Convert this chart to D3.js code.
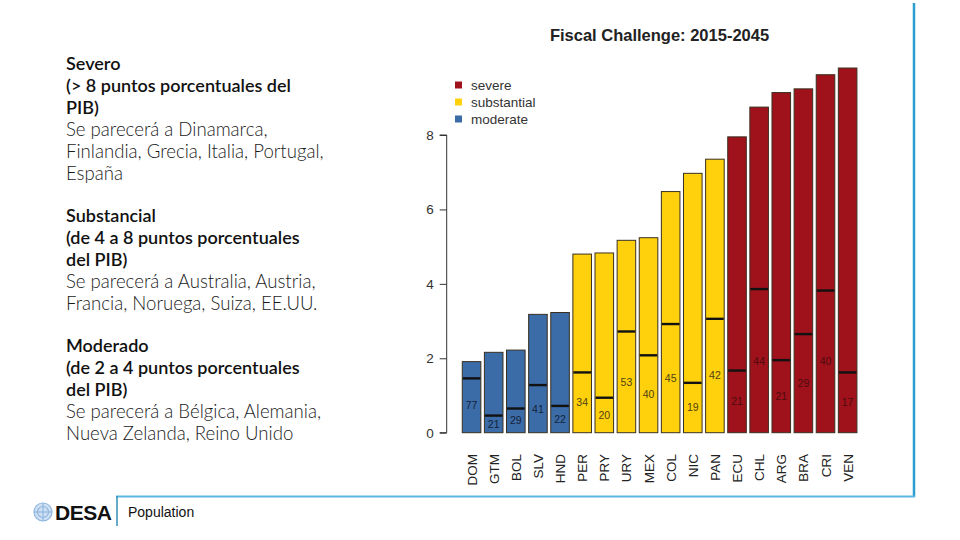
<!DOCTYPE html>
<html><head><meta charset="utf-8">
<script src="https://cdn.jsdelivr.net/npm/d3@7"></script>
<style>
html,body{margin:0;padding:0;background:#fff;}
svg{display:block;}
</style></head>
<body>
<svg id="chart" width="960" height="540"></svg>
<script>
// ---- data ----
const countries = ["DOM","GTM","BOL","SLV","HND","PER","PRY","URY","MEX","COL","NIC","PAN","ECU","CHL","ARG","BRA","CRI","VEN"];
const totals    = [1.91,2.16,2.22,3.18,3.23,4.80,4.83,5.17,5.24,6.48,6.97,7.35,7.95,8.75,9.14,9.24,9.62,9.80];
const markers   = [1.46,0.46,0.65,1.28,0.72,1.62,0.94,2.72,2.08,2.92,1.34,3.06,1.67,3.86,1.95,2.65,3.82,1.62];
const barLabels = [77,21,29,41,22,34,20,53,40,45,19,42,21,44,21,29,40,17];
const groups    = ["moderate","moderate","moderate","moderate","moderate",
                   "substantial","substantial","substantial","substantial","substantial","substantial","substantial",
                   "severe","severe","severe","severe","severe","severe"];
const legendKeys = ["severe","substantial","moderate"];
const yTicks = [0,2,4,6,8];
const chartTitle = "Fiscal Challenge: 2015-2045";

const sideText = [
  {t:"Severo", b:true},
  {t:"(> 8 puntos porcentuales del", b:true},
  {t:"PIB)", b:true},
  {t:"Se parecerá a Dinamarca,", b:false},
  {t:"Finlandia, Grecia, Italia, Portugal,", b:false},
  {t:"España", b:false},
  null,
  {t:"Substancial", b:true},
  {t:"(de 4 a 8 puntos porcentuales", b:true},
  {t:"del PIB)", b:true},
  {t:"Se parecerá a Australia, Austria,", b:false},
  {t:"Francia, Noruega, Suiza, EE.UU.", b:false},
  null,
  {t:"Moderado", b:true},
  {t:"(de 2 a 4 puntos porcentuales", b:true},
  {t:"del PIB)", b:true},
  {t:"Se parecerá a Bélgica, Alemania,", b:false},
  {t:"Nueva Zelanda, Reino Unido", b:false}
];

// ---- styles ----
const fill  = {severe:"#9f121c", substantial:"#ffd10d", moderate:"#3b6ca7"};
const txtCol= {severe:"#4e0a0d", substantial:"#4f4212", moderate:"#15213a"};

const svg = d3.select("#chart");

// ---- left text ----
const tg = svg.append("g").attr("font-family","Lato, 'Open Sans', sans-serif");
let ly = 70;
sideText.forEach(d=>{
  if(d===null){ ly += 20; return; }
  tg.append("text").attr("x",66).attr("y",ly)
    .attr("font-size", d.b ? 18 : 18.6)
    .attr("font-weight", d.b ? 600 : 300)
    .attr("fill", d.b ? "#111" : "#1a1a1a")
    .text(d.t);
  ly += 22;
});

// ---- scales ----
const x = d3.scaleBand().domain(countries).range([460.5, 858.7]).paddingInner(0.16).paddingOuter(0.08);
const y = d3.scaleLinear().domain([0,8]).range([432.7,135]);

// ---- title ----
svg.append("text").attr("x",659.5).attr("y",41).attr("text-anchor","middle")
  .attr("font-family","Liberation Sans, Arial, sans-serif").attr("font-weight","bold")
  .attr("font-size",16.5).attr("fill","#222").text(chartTitle);

// ---- legend ----
const lg = svg.append("g").attr("font-family","Liberation Sans, Arial, sans-serif");
legendKeys.forEach((k,i)=>{
  const yy = 85 + i*17;
  lg.append("rect").attr("x",455).attr("y",yy-3.5).attr("width",7).attr("height",7).attr("fill",fill[k]);
  lg.append("text").attr("x",471).attr("y",yy).attr("dy","0.35em").attr("font-size",13.5).attr("fill","#333").text(k);
});

// ---- y axis ----
const yAxis = d3.axisLeft(y).tickValues(yTicks).tickSize(7).tickPadding(6);
const ya = svg.append("g").attr("transform","translate(446.7,0)").call(yAxis);
ya.selectAll("path,line").attr("stroke","#333");
ya.select(".domain").attr("d","M-7,"+y(0)+"H0V"+y(8)+"H-7");
ya.selectAll("text").attr("font-family","Liberation Sans, Arial, sans-serif").attr("font-size",13.5).attr("fill","#333");

// ---- bars ----
const bars = svg.append("g");
countries.forEach((c,i)=>{
  const g = groups[i];
  bars.append("rect").attr("x",x(c)).attr("y",y(totals[i]))
    .attr("width",x.bandwidth()).attr("height",y(0)-y(totals[i]))
    .attr("fill",fill[g]).attr("stroke","#3a3020").attr("stroke-width",1);
  bars.append("line").attr("x1",x(c)+0.5).attr("x2",x(c)+x.bandwidth()-0.5)
    .attr("y1",y(markers[i])).attr("y2",y(markers[i]))
    .attr("stroke","#111").attr("stroke-width",2.4);
  bars.append("text").attr("x",x(c)+x.bandwidth()/2).attr("y",y(markers[i]/2))
    .attr("dy","0.35em").attr("text-anchor","middle")
    .attr("font-family","Liberation Sans, Arial, sans-serif").attr("font-size",10.5)
    .attr("fill",txtCol[g]).text(barLabels[i]);
});

// ---- x labels ----
const xl = svg.append("g").attr("font-family","Liberation Sans, Arial, sans-serif");
countries.forEach(c=>{
  const cx = x(c)+x.bandwidth()/2;
  xl.append("text").attr("transform",`translate(${cx+5},454) rotate(-90)`)
    .attr("text-anchor","end").attr("font-size",13.5).attr("fill","#222").text(c);
});

// ---- frame lines ----
svg.append("line").attr("x1",914).attr("x2",914).attr("y1",3).attr("y2",497).attr("stroke","#2a9fd0").attr("stroke-width",2.5);
svg.append("line").attr("x1",116).attr("x2",915).attr("y1",496.5).attr("y2",496.5).attr("stroke","#5ab6e4").attr("stroke-width",2);
svg.append("line").attr("x1",117).attr("x2",117).attr("y1",496).attr("y2",526).attr("stroke","#2f8fb5").attr("stroke-width",1.5);

// ---- footer ----
svg.append("text").attr("x",128).attr("y",517).attr("font-family","Liberation Sans, Arial, sans-serif")
  .attr("font-size",14).attr("fill","#111").text("Population");
const em = svg.append("g").attr("transform","translate(43,512)").attr("fill","none").attr("stroke","#8fb6e0").attr("stroke-width",1.2);
em.append("circle").attr("r",9).attr("fill","#cfe0f3");
em.append("circle").attr("r",5.5);
em.append("line").attr("x1",-9).attr("x2",9);
em.append("line").attr("y1",-9).attr("y2",9);
svg.append("text").attr("x",55).attr("y",520).attr("font-family","Liberation Sans, Arial, sans-serif")
  .attr("font-weight","bold").attr("font-size",21).attr("fill","#111").attr("letter-spacing","-0.5").text("DESA");
</script>
</body></html>
